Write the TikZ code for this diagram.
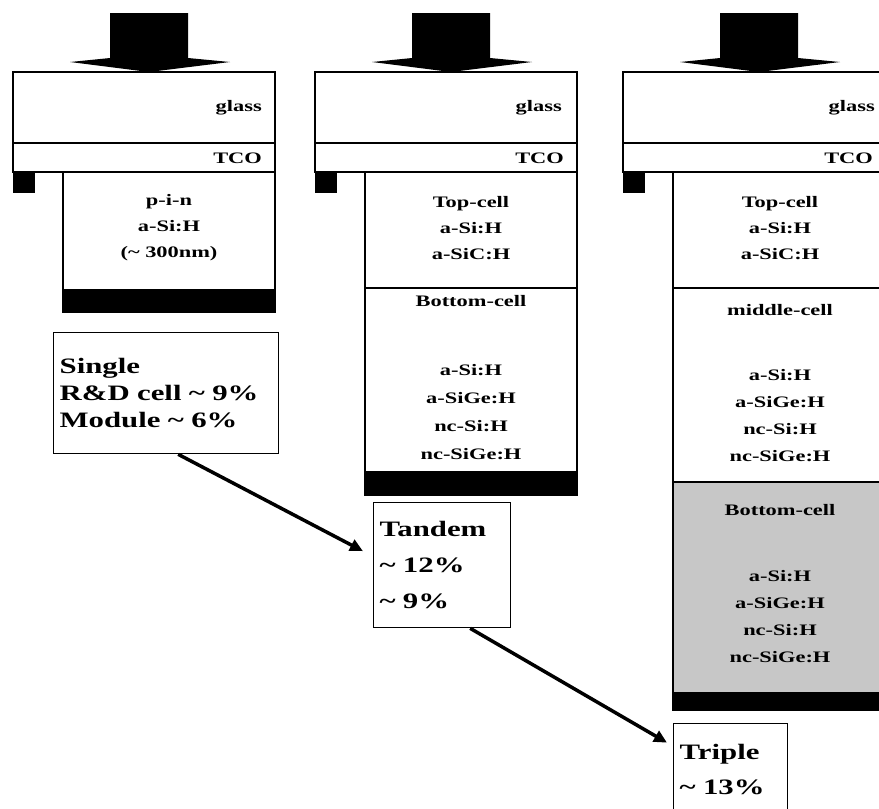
\documentclass[tikz,border=0pt]{standalone}
\usepackage{fontspec}
\setmainfont{Liberation Serif}
\newfontfamily\cellfont[FakeStretch=1.4]{Liberation Serif}
\usetikzlibrary{arrows.meta, positioning, calc}

\begin{document}
\begin{tikzpicture}[x=1pt, y=-1pt,
  layer/.style={draw, line width=1.3pt, fill=white},
  lbl/.style={font=\cellfont\bfseries\fontsize{16}{26}\selectfont, align=center, inner sep=0pt},
  tag/.style={font=\cellfont\bfseries\fontsize{16}{18}\selectfont, anchor=east, inner sep=0pt},
  result/.style={draw, line width=1.3pt, fill=white, anchor=north west, align=left,
    inner xsep=6pt, inner ysep=0pt, font=\cellfont\bfseries\fontsize{22}{27}\selectfont},
  link/.style={line width=3.5pt, -{Triangle[length=13pt,width=12pt]}}]
\useasboundingbox (0,0) rectangle (879,809);
\clip (0,0) rectangle (879,809);

% Single cell
\fill (110,13) -- (188,13) -- (188,58) -- (230,62) -- (149,72) -- (70,62) -- (110,58) -- cycle;
\draw[layer] (13,72) rectangle (275,143);
\draw[layer] (13,143) rectangle (275,172);
\fill (13,172) rectangle (35,193);
\draw[layer] (63,172) rectangle (275,290);
\draw[fill=black, line width=1.3pt] (63,290) rectangle (275,312);
\node (glassA) [tag] at (262,108) {glass};
\node (tcoA) [tag] at (262,158) {TCO};
\node (pinA) [lbl] at (169,228) {p-i-n\\a-Si:H\\(\textasciitilde{} 300nm)};

% Tandem cell
\fill (412,13) -- (490,13) -- (490,58) -- (532,62) -- (451,72) -- (372,62) -- (412,58) -- cycle;
\draw[layer] (315,72) rectangle (577,143);
\draw[layer] (315,143) rectangle (577,172);
\fill (315,172) rectangle (337,193);
\draw[layer] (365,172) rectangle (577,288);
\draw[layer] (365,288) rectangle (577,472);
\draw[fill=black, line width=1.3pt] (365,472) rectangle (577,495);
\node (glassB) [tag] at (562,108) {glass};
\node (tcoB) [tag] at (564,158) {TCO};
\node (topB) [lbl] at (471,228) {Top-cell\\a-Si:H\\a-SiC:H};
\node (botB) [lbl] at (471,301) {Bottom-cell};
\node (matB) [lbl, font=\cellfont\bfseries\fontsize{16}{28}\selectfont] at (471,412)
  {a-Si:H\\a-SiGe:H\\nc-Si:H\\nc-SiGe:H};

% Triple cell
\fill (720,13) -- (798,13) -- (798,58) -- (840,62) -- (759,72) -- (680,62) -- (720,58) -- cycle;
\draw[layer] (623,72) rectangle (890,143);
\draw[layer] (623,143) rectangle (890,172);
\fill (623,172) rectangle (645,193);
\draw[layer] (673,172) rectangle (890,288);
\draw[layer] (673,288) rectangle (890,482);
\draw[layer, fill=black!22] (673,482) rectangle (890,693);
\draw[fill=black, line width=1.3pt] (673,693) rectangle (890,710);
\node (glassC) [tag] at (875,108) {glass};
\node (tcoC) [tag] at (873,158) {TCO};
\node (topC) [lbl] at (780,228) {Top-cell\\a-Si:H\\a-SiC:H};
\node (midC) [lbl] at (780,310) {middle-cell};
\node (matC) [lbl, font=\cellfont\bfseries\fontsize{16}{27}\selectfont] at (780,416)
  {a-Si:H\\a-SiGe:H\\nc-Si:H\\nc-SiGe:H};
\node (botC) [lbl] at (780,510) {Bottom-cell};
\node (matD) [lbl, font=\cellfont\bfseries\fontsize{16}{27}\selectfont] at (780,617)
  {a-Si:H\\a-SiGe:H\\nc-Si:H\\nc-SiGe:H};

% Efficiency boxes
\node (single) [result, minimum width=225pt, minimum height=121pt, text width=213pt] at (53,332)
  {Single\\R\&D cell \textasciitilde{} 9\%\\Module \textasciitilde{} 6\%};
\node (tandem) [result, minimum width=137pt, minimum height=125pt, text width=125pt,
  font=\cellfont\bfseries\fontsize{22}{36}\selectfont] at (373,502)
  {Tandem\\\textasciitilde{} 12\%\\\textasciitilde{} 9\%};
\node (triple) [result, minimum width=114pt, minimum height=92pt, text width=102pt,
  font=\cellfont\bfseries\fontsize{22}{35}\selectfont] at (673,723)
  {Triple\\\textasciitilde{} 13\%};

% Arrows between the boxes
\draw[link] ([xshift=12pt]single.south) -- ([xshift=-10pt, yshift=14pt]tandem.west);
\draw[link] ([xshift=28pt]tandem.south) -- ([xshift=-6pt, yshift=27pt]triple.west);
\end{tikzpicture}
\end{document}
